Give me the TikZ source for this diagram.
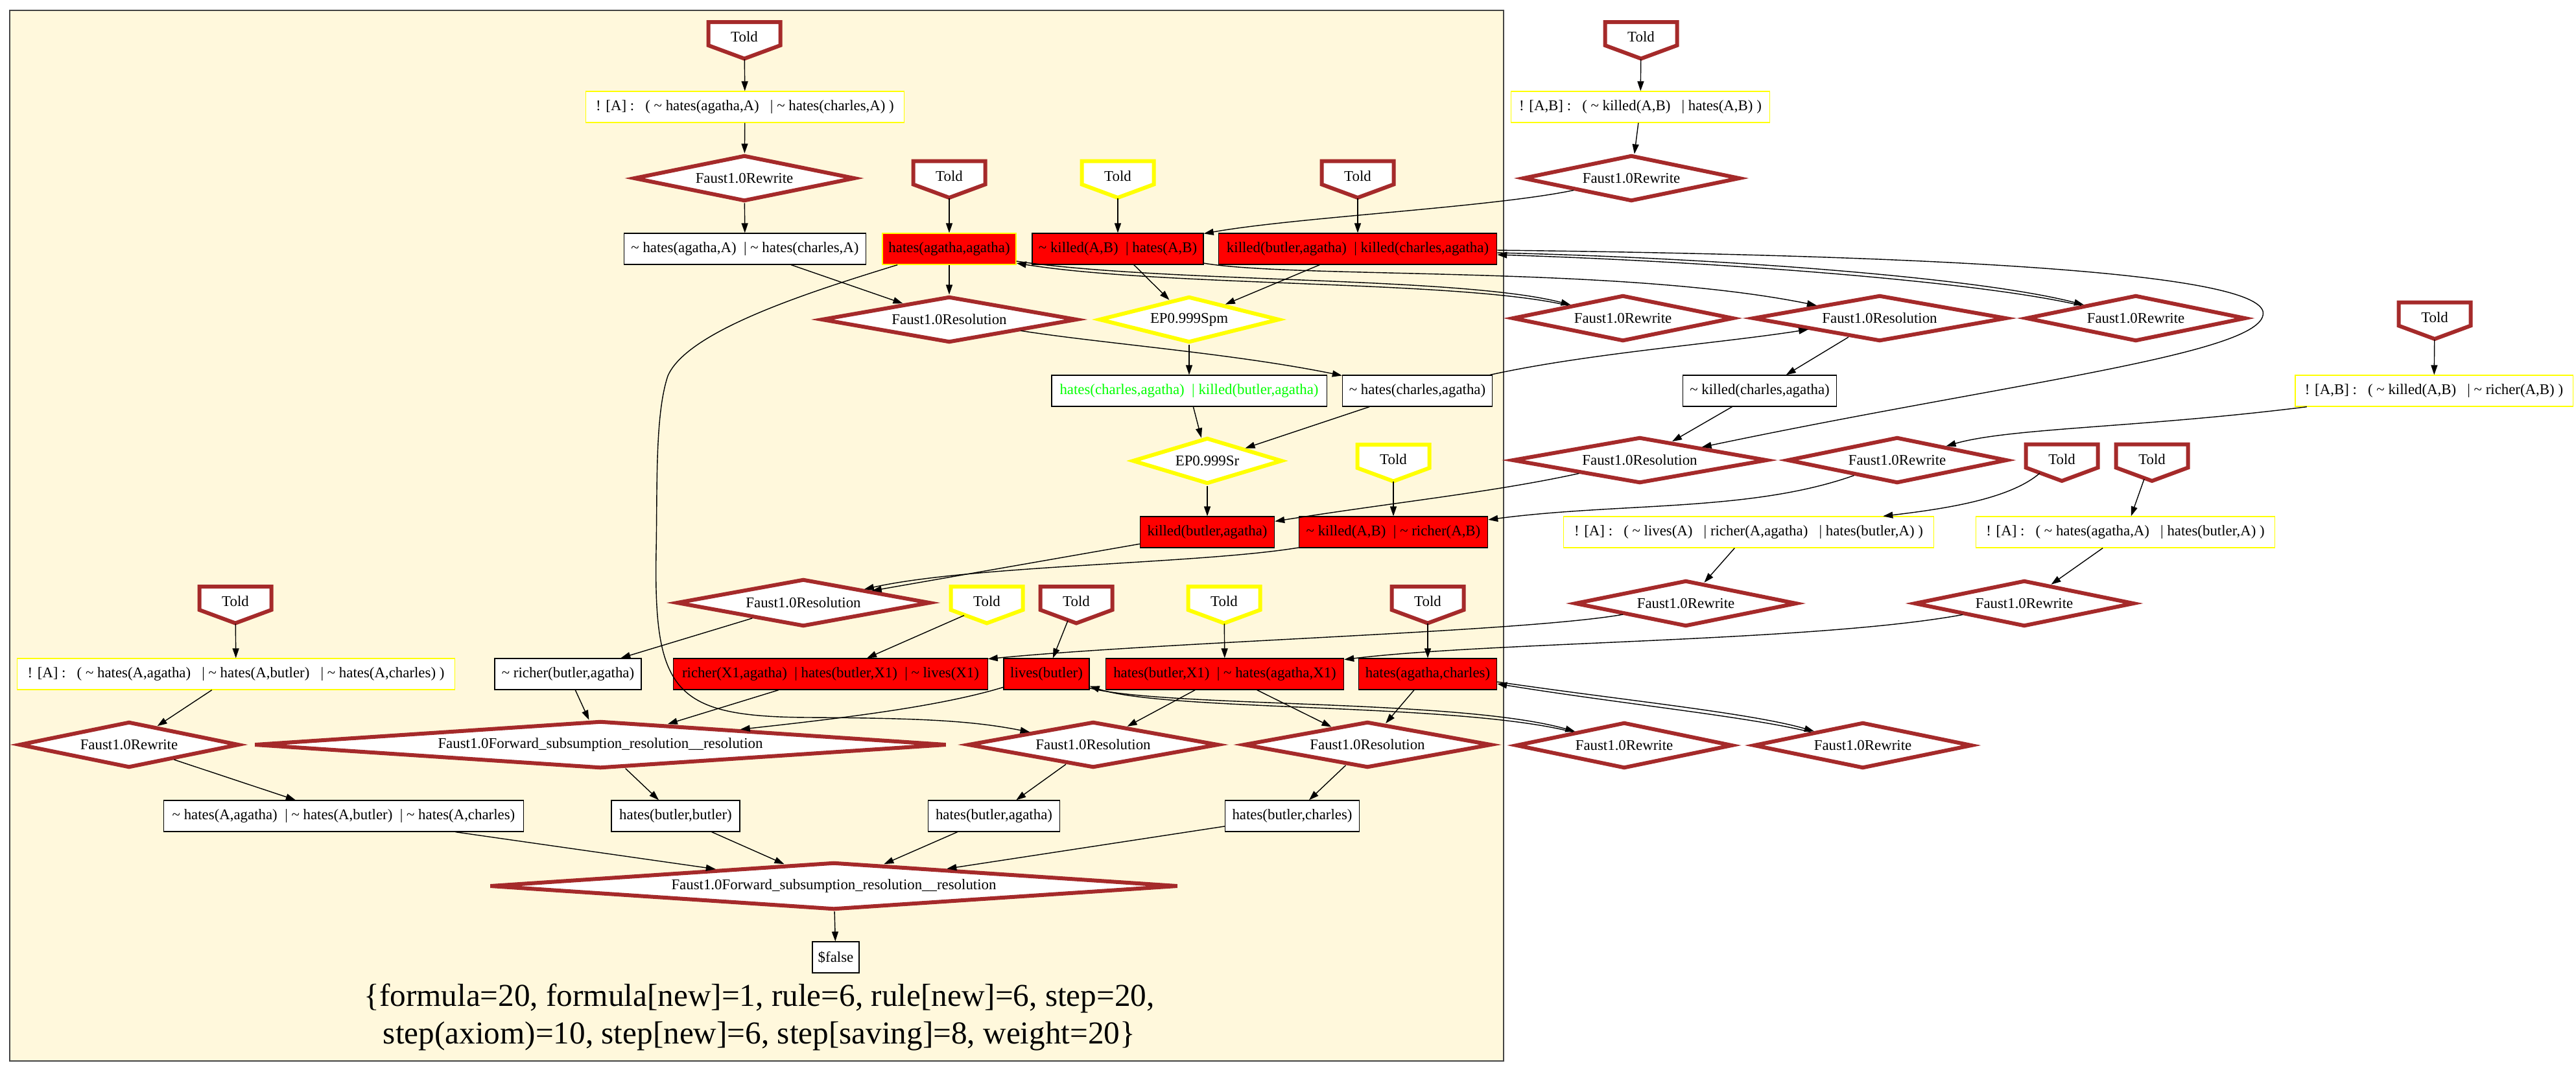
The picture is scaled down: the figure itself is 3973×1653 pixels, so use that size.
\documentclass[tikz,border=0pt]{standalone}
\usepackage{fontspec}
\setmainfont{Liberation Serif}
\usepackage{tikz}
\usetikzlibrary{positioning, calc, shapes.geometric, arrows.meta}
\definecolor{toldBrown}{RGB}{165,42,42}
\definecolor{axiomYellow}{RGB}{255,255,0}
\definecolor{derivedGreen}{RGB}{0,255,0}
\definecolor{clusterFill}{RGB}{255,248,220}
\definecolor{clusterLine}{RGB}{68,68,68}
\newcommand{\clauseFont}{\fontsize{6.5}{7.8}\selectfont}
\newcommand{\statsFont}{\fontsize{14}{16.5}\selectfont}
\newcommand{\tneg}{\textasciitilde\ }
\tikzstyle{clusterStyle} = [fill=clusterFill, draw=clusterLine, line width=0.02cm]
\tikzstyle{clauseBox} = [rectangle, draw=black, fill=white, line width=0.35pt, minimum height=0.48cm, inner xsep=0.08cm, inner ysep=0pt, font=\clauseFont]
\tikzstyle{axiomBox} = [clauseBox, draw=axiomYellow]
\tikzstyle{givenBox} = [clauseBox, fill=red]
\tikzstyle{ruleDiamond} = [diamond, draw=toldBrown, fill=white, line width=0.06cm, inner sep=0pt, shape aspect=5, minimum height=0.71cm, font=\clauseFont]
\tikzstyle{epDiamond} = [ruleDiamond, draw=axiomYellow]
\tikzstyle{fsrDiamond} = [ruleDiamond, shape aspect=14, minimum height=0.73cm]
\tikzstyle{toldStyle} = [fill=white, line width=0.06cm, line join=miter]
\tikzstyle{toldText} = [rectangle, minimum width=1.11cm, minimum height=0.565cm, inner sep=0pt, text height=4.6pt, text depth=3.3pt, font=\clauseFont]
\tikzstyle{edgeLine} = [draw=black, line width=0.4pt, -{Triangle[length=0.15cm, width=0.1cm]}]
\tikzstyle{statsText} = [align=center, font=\statsFont]
\newcommand{\toldNode}[4]{
  \filldraw [toldStyle, draw=#4] (#2 - 55.5, #3 - 28.5) -- (#2 + 55.5, #3 - 28.5) -- (#2 + 55.5, #3 + 7.5) -- (#2, #3 + 28) -- (#2 - 55.5, #3 + 7.5) -- cycle;
  \node [toldText] (#1) at (#2, #3) {Told};
}
\begin{document}
\begin{tikzpicture}[x=0.01cm, y=-0.01cm]
  \useasboundingbox (0,0) rectangle (3973,1653);
  \filldraw [clusterStyle] (15,16) rectangle (2319,1637);

  \toldNode{toldA}{1148}{62.5}{toldBrown}
  \toldNode{toldB}{1464}{277}{toldBrown}
  \toldNode{toldC}{1724}{277}{axiomYellow}
  \toldNode{toldD}{2094}{277}{toldBrown}
  \toldNode{toldE}{2149}{714.5}{axiomYellow}
  \toldNode{toldF}{1522}{933.5}{axiomYellow}
  \toldNode{toldG}{1660}{933.5}{toldBrown}
  \toldNode{toldH}{1888}{933.5}{axiomYellow}
  \toldNode{toldI}{2202}{933.5}{toldBrown}
  \toldNode{toldJ}{363}{933.5}{toldBrown}
  \toldNode{toldK}{2531}{62.5}{toldBrown}
  \toldNode{toldL}{3755}{495}{toldBrown}
  \toldNode{toldM}{3180}{714}{toldBrown}
  \toldNode{toldN}{3319}{714}{toldBrown}

  \node [axiomBox, minimum width=4.91cm] (axiomA) at (1149,165) {! [A] :\ \ \ ( \tneg hates(agatha,A)\ \ \ | \tneg hates(charles,A) )};
  \node [clauseBox, minimum width=3.73cm] (clauseA) at (1149,384) {\tneg hates(agatha,A)\ \ | \tneg hates(charles,A)};
  \node [givenBox, draw=axiomYellow, minimum width=2.06cm] (givenA) at (1464,384) {hates(agatha,agatha)};
  \node [givenBox, minimum width=2.64cm] (givenB) at (1724,384) {\tneg killed(A,B)\ \ | hates(A,B)};
  \node [givenBox, minimum width=4.29cm] (givenC) at (2094,384) {killed(butler,agatha)\ \ | killed(charles,agatha)};
  \node [clauseBox, text=derivedGreen, minimum width=4.24cm] (clauseB) at (1834,603) {hates(charles,agatha)\ \ | killed(butler,agatha)};
  \node [clauseBox, minimum width=2.31cm] (clauseC) at (2186,603) {\tneg hates(charles,agatha)};
  \node [givenBox, minimum width=2.07cm] (givenD) at (1862,821) {killed(butler,agatha)};
  \node [givenBox, minimum width=2.91cm] (givenE) at (2149,821) {\tneg killed(A,B)\ \ | \tneg richer(A,B)};
  \node [clauseBox, minimum width=2.26cm] (clauseD) at (876,1040) {\tneg richer(butler,agatha)};
  \node [givenBox, minimum width=4.84cm] (givenF) at (1281,1040) {richer(X1,agatha)\ \ | hates(butler,X1)\ \ | \tneg lives(X1)};
  \node [givenBox, minimum width=1.32cm] (givenG) at (1614,1040) {lives(butler)};
  \node [givenBox, minimum width=3.67cm] (givenH) at (1889,1040) {hates(butler,X1)\ \ | \tneg hates(agatha,X1)};
  \node [givenBox, minimum width=2.13cm] (givenI) at (2202,1040) {hates(agatha,charles)};
  \node [axiomBox, minimum width=6.74cm] (axiomB) at (364,1040) {! [A] :\ \ \ ( \tneg hates(A,agatha)\ \ \ | \tneg hates(A,butler)\ \ \ | \tneg hates(A,charles) )};
  \node [clauseBox, minimum width=5.54cm] (clauseE) at (530,1259) {\tneg hates(A,agatha)\ \ | \tneg hates(A,butler)\ \ | \tneg hates(A,charles)};
  \node [clauseBox, minimum width=1.98cm] (clauseF) at (1042,1259) {hates(butler,butler)};
  \node [clauseBox, minimum width=2.03cm] (clauseG) at (1533,1259) {hates(butler,agatha)};
  \node [clauseBox, minimum width=2.07cm] (clauseH) at (1993,1259) {hates(butler,charles)};
  \node [clauseBox, minimum width=0.72cm] (clauseFalse) at (1289,1477) {\$false};
  \node [axiomBox, minimum width=3.99cm] (axiomC) at (2530,165) {! [A,B] :\ \ \ ( \tneg killed(A,B)\ \ \ | hates(A,B) )};
  \node [clauseBox, minimum width=2.37cm] (clauseI) at (2714,603) {\tneg killed(charles,agatha)};
  \node [axiomBox, minimum width=4.28cm] (axiomD) at (3754,603) {! [A,B] :\ \ \ ( \tneg killed(A,B)\ \ \ | \tneg richer(A,B) )};
  \node [axiomBox, minimum width=5.71cm] (axiomE) at (2697,821) {! [A] :\ \ \ ( \tneg lives(A)\ \ \ | richer(A,agatha)\ \ \ | hates(butler,A) )};
  \node [axiomBox, minimum width=4.61cm] (axiomF) at (3278,821) {! [A] :\ \ \ ( \tneg hates(agatha,A)\ \ \ | hates(butler,A) )};

  \node [ruleDiamond, minimum width=3.41cm] (rwA) at (1148,275) {Faust1.0Rewrite};
  \node [ruleDiamond, minimum width=3.94cm] (resA) at (1464,493) {Faust1.0Resolution};
  \node [epDiamond, minimum width=2.78cm] (epSpm) at (1834,493) {EP0.999Spm};
  \node [epDiamond, minimum width=2.31cm] (epSr) at (1862,711) {EP0.999Sr};
  \node [ruleDiamond, minimum width=3.91cm, minimum height=0.73cm] (resB) at (1239,930) {Faust1.0Resolution};
  \node [ruleDiamond, minimum width=3.39cm] (rwL) at (199,1149) {Faust1.0Rewrite};
  \node [fsrDiamond, minimum width=10.67cm] (fsrA) at (926,1149) {Faust1.0Forward\_subsumption\_resolution\_\_resolution};
  \node [ruleDiamond, minimum width=3.86cm] (resC) at (1686,1149) {Faust1.0Resolution};
  \node [ruleDiamond, minimum width=3.82cm] (resD) at (2109,1149) {Faust1.0Resolution};
  \node [fsrDiamond, minimum width=10.61cm] (fsrB) at (1286,1367) {Faust1.0Forward\_subsumption\_resolution\_\_resolution};
  \node [ruleDiamond, minimum width=3.35cm] (rwB) at (2516,275) {Faust1.0Rewrite};
  \node [ruleDiamond, minimum width=3.41cm] (rwC) at (2503,491) {Faust1.0Rewrite};
  \node [ruleDiamond, minimum width=3.91cm] (resE) at (2899,491) {Faust1.0Resolution};
  \node [ruleDiamond, minimum width=3.39cm] (rwD) at (3294,491) {Faust1.0Rewrite};
  \node [ruleDiamond, minimum width=3.93cm] (resF) at (2529,710) {Faust1.0Resolution};
  \node [ruleDiamond, minimum width=3.39cm] (rwE) at (2926,710) {Faust1.0Rewrite};
  \node [ruleDiamond, minimum width=3.42cm] (rwF) at (2600,931) {Faust1.0Rewrite};
  \node [ruleDiamond, minimum width=3.39cm] (rwG) at (3122,931) {Faust1.0Rewrite};
  \node [ruleDiamond, minimum width=3.34cm] (rwH) at (2505,1150) {Faust1.0Rewrite};
  \node [ruleDiamond, minimum width=3.37cm] (rwI) at (2873,1150) {Faust1.0Rewrite};

  \node [statsText] (statsLabel) at (1171,1569) {\{formula=20, formula[new]=1, rule=6, rule[new]=6, step=20,\\step(axiom)=10, step[new]=6, step[saving]=8, weight=20\}};

  \draw [edgeLine] (toldA) -- (axiomA);
  \draw [edgeLine] (axiomA) -- (rwA);
  \draw [edgeLine] (rwA) -- (clauseA);
  \draw [edgeLine] (clauseA) -- (resA);
  \draw [edgeLine] (toldB) -- (givenA);
  \draw [edgeLine] (givenA) -- (resA);
  \draw [edgeLine] (givenA) .. controls (1250,450) and (1060,510) .. (1030,580) .. controls (1010,640) and (1014,750) .. (1012,850) .. controls (1008,1070) and (1040,1106) .. (1250,1107) .. controls (1420,1108) and (1500,1112) .. (resC);
  \draw [edgeLine] (toldC) -- (givenB);
  \draw [edgeLine] (toldD) -- (givenC);
  \draw [edgeLine] (givenB) -- (epSpm);
  \draw [edgeLine] (givenC) -- (epSpm);
  \draw [edgeLine] (toldK) -- (axiomC);
  \draw [edgeLine] (axiomC) -- (rwB);
  \draw [edgeLine] (rwB) .. controls (2300,320) and (2000,335) .. (givenB);
  \draw [edgeLine] ($(givenA.east)+(0,19)$) .. controls (1800,437) and (2250,426) .. (rwC);
  \draw [edgeLine] (rwC) .. controls (2250,432) and (1800,443) .. ($(givenA.east)+(0,22)$);
  \draw [edgeLine] ($(givenC.east)+(0,6)$) .. controls (2650,398) and (3050,428) .. (rwD);
  \draw [edgeLine] (rwD) .. controls (3050,434) and (2650,404) .. ($(givenC.east)+(0,9)$);
  \draw [edgeLine] ($(givenC.east)+(0,2)$) .. controls (2900,393) and (3470,415) .. (3490,480) .. controls (3505,545) and (3100,590) .. (resF);
  \draw [edgeLine] (givenB) .. controls (2000,430) and (2500,410) .. (resE);
  \draw [edgeLine] (resA) .. controls (1700,530) and (1900,545) .. (clauseC);
  \draw [edgeLine] (epSpm) -- (clauseB);
  \draw [edgeLine] (clauseB) -- (epSr);
  \draw [edgeLine] (clauseC) -- (epSr);
  \draw [edgeLine] (clauseC) .. controls (2450,545) and (2650,530) .. (resE);
  \draw [edgeLine] (resE) -- (clauseI);
  \draw [edgeLine] (clauseI) -- (resF);
  \draw [edgeLine] (epSr) -- (givenD);
  \draw [edgeLine] (toldE) -- (givenE);
  \draw [edgeLine] (resF) .. controls (2300,760) and (2150,775) .. (givenD);
  \draw [edgeLine] (toldL) -- (axiomD);
  \draw [edgeLine] (axiomD) .. controls (3300,660) and (3100,660) .. (rwE);
  \draw [edgeLine] (rwE) .. controls (2700,790) and (2500,775) .. (givenE);
  \draw [edgeLine] ($(toldM.south)+(-34,-13)$) .. controls (3100,770) and (3000,785) .. (axiomE);
  \draw [edgeLine] ($(toldN.south)+(-12,-4)$) -- (axiomF);
  \draw [edgeLine] (axiomE) -- (rwF);
  \draw [edgeLine] (axiomF) -- (rwG);
  \draw [edgeLine] (rwF) .. controls (2350,975) and (1800,990) .. (givenF);
  \draw [edgeLine] (rwG) .. controls (2800,990) and (2300,990) .. (givenH);
  \draw [edgeLine] (givenD) -- (resB);
  \draw [edgeLine] (givenE) .. controls (1850,870) and (1500,872) .. (resB);
  \draw [edgeLine] (resB) -- (clauseD);
  \draw [edgeLine] ($(toldF.south)+(-35,-13)$) -- (givenF);
  \draw [edgeLine] ($(toldG.south)+(-13,-5)$) -- (givenG);
  \draw [edgeLine] (toldH) -- (givenH);
  \draw [edgeLine] (toldI) -- (givenI);
  \draw [edgeLine] (clauseD) -- (fsrA);
  \draw [edgeLine] (givenF) -- (fsrA);
  \draw [edgeLine] (givenG) .. controls (1450,1090) and (1300,1108) .. (fsrA);
  \draw [edgeLine] (givenH) -- (resC);
  \draw [edgeLine] (givenH) -- (resD);
  \draw [edgeLine] (givenI) -- (resD);
  \draw [edgeLine] ($(givenG.south east)+(0,-3)$) .. controls (1800,1092) and (2250,1078) .. (rwH);
  \draw [edgeLine] (rwH) .. controls (2250,1084) and (1800,1098) .. ($(givenG.south east)+(0,-6)$);
  \draw [edgeLine] ($(givenI.east)+(0,12)$) .. controls (2500,1080) and (2700,1100) .. (rwI);
  \draw [edgeLine] (rwI) .. controls (2700,1106) and (2500,1086) .. ($(givenI.east)+(0,15)$);
  \draw [edgeLine] (toldJ) -- (axiomB);
  \draw [edgeLine] (axiomB) -- (rwL);
  \draw [edgeLine] (rwL) -- (clauseE);
  \draw [edgeLine] (fsrA) -- (clauseF);
  \draw [edgeLine] (resC) -- (clauseG);
  \draw [edgeLine] (resD) -- (clauseH);
  \draw [edgeLine] (clauseE) -- (fsrB);
  \draw [edgeLine] (clauseF) -- (fsrB);
  \draw [edgeLine] (clauseG) -- (fsrB);
  \draw [edgeLine] (clauseH) -- (fsrB);
  \draw [edgeLine] (fsrB) -- (clauseFalse);
\end{tikzpicture}
\end{document}
